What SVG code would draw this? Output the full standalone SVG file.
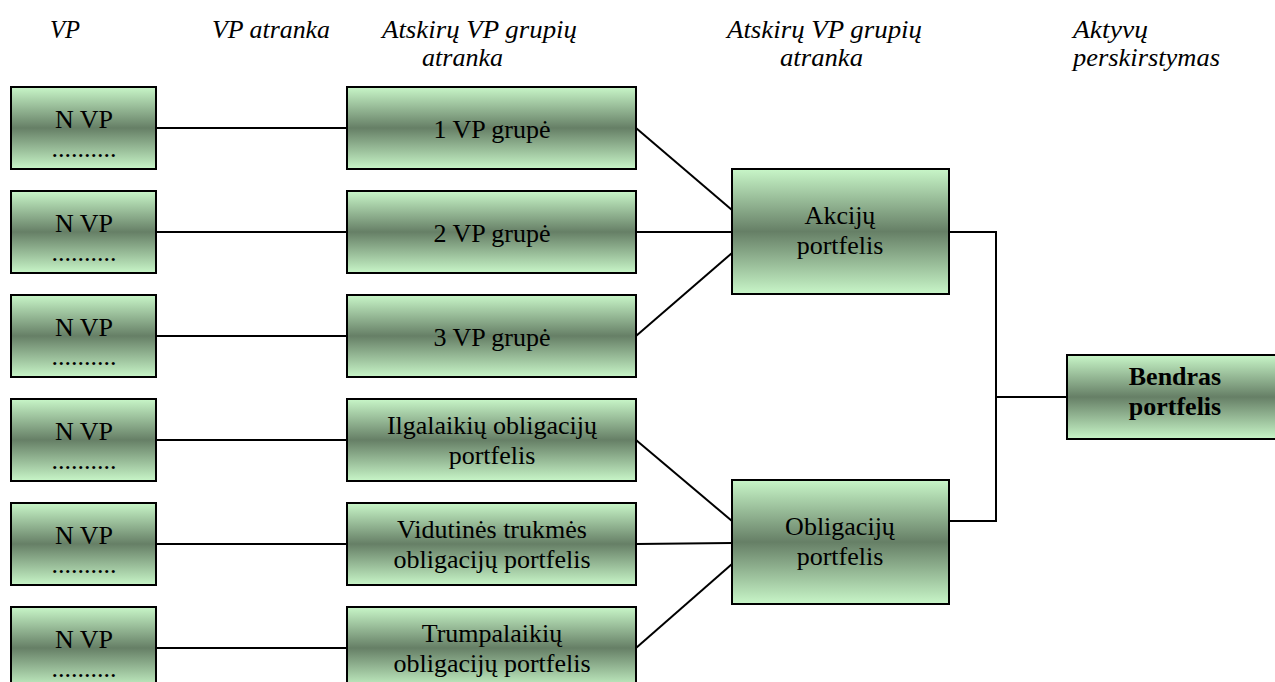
<svg xmlns="http://www.w3.org/2000/svg" width="1275" height="682" viewBox="0 0 1275 682">
<defs>
<linearGradient id="g" x1="0" y1="0" x2="0" y2="1">
<stop offset="0" stop-color="#c8f6c8"/>
<stop offset="0.5" stop-color="#667f66"/>
<stop offset="1" stop-color="#c8f6c8"/>
</linearGradient>
<style>
.b{fill:url(#g);stroke:#000;stroke-width:2}
.t{font-family:"Liberation Serif","Times New Roman",serif;font-size:26px;fill:#000;text-anchor:middle}
.bold{font-weight:bold}
.h{font-family:"Liberation Serif","Times New Roman",serif;font-size:25px;font-style:italic;fill:#000}
.c{fill:none;stroke:#000;stroke-width:2}
</style>
</defs>
<rect width="1275" height="682" fill="#fff"/>
<g id="headers">
<text class="h" x="50" y="38" textLength="30" lengthAdjust="spacingAndGlyphs">VP</text>
<text class="h" x="212" y="38" textLength="118" lengthAdjust="spacingAndGlyphs">VP atranka</text>
<text class="h" x="382" y="38" textLength="195" lengthAdjust="spacingAndGlyphs">Atskirų VP grupių</text>
<text class="h" x="422" y="66" textLength="81" lengthAdjust="spacingAndGlyphs">atranka</text>
<text class="h" x="727" y="38" textLength="195" lengthAdjust="spacingAndGlyphs">Atskirų VP grupių</text>
<text class="h" x="780" y="66" textLength="83" lengthAdjust="spacingAndGlyphs">atranka</text>
<text class="h" x="1073" y="38" textLength="75" lengthAdjust="spacingAndGlyphs">Aktyvų</text>
<text class="h" x="1073" y="66" textLength="147" lengthAdjust="spacingAndGlyphs">perskirstymas</text>
</g>
<g id="connectors">
<line class="c" x1="156" y1="128" x2="347" y2="128"/>
<line class="c" x1="156" y1="232" x2="347" y2="232"/>
<line class="c" x1="156" y1="336" x2="347" y2="336"/>
<line class="c" x1="156" y1="440" x2="347" y2="440"/>
<line class="c" x1="156" y1="544" x2="347" y2="544"/>
<line class="c" x1="156" y1="648" x2="347" y2="648"/>
<line class="c" x1="636" y1="128" x2="732" y2="210"/>
<line class="c" x1="636" y1="232" x2="732" y2="232"/>
<line class="c" x1="636" y1="336" x2="732" y2="253"/>
<line class="c" x1="636" y1="440" x2="732" y2="521"/>
<line class="c" x1="636" y1="544" x2="732" y2="543"/>
<line class="c" x1="636" y1="648" x2="732" y2="564"/>
<polyline class="c" points="949,232 996,232 996,521 949,521"/>
<line class="c" x1="996" y1="397" x2="1067" y2="397"/>
</g>
<g id="vp1"><rect class="b" x="11" y="87" width="145" height="82"/><text class="t" x="84" y="128">N VP</text><text class="t" x="84" y="157">..........</text></g>
<g id="vp2"><rect class="b" x="11" y="191" width="145" height="82"/><text class="t" x="84" y="232">N VP</text><text class="t" x="84" y="261">..........</text></g>
<g id="vp3"><rect class="b" x="11" y="295" width="145" height="82"/><text class="t" x="84" y="336">N VP</text><text class="t" x="84" y="365">..........</text></g>
<g id="vp4"><rect class="b" x="11" y="399" width="145" height="82"/><text class="t" x="84" y="440">N VP</text><text class="t" x="84" y="469">..........</text></g>
<g id="vp5"><rect class="b" x="11" y="503" width="145" height="82"/><text class="t" x="84" y="544">N VP</text><text class="t" x="84" y="573">..........</text></g>
<g id="vp6"><rect class="b" x="11" y="607" width="145" height="82"/><text class="t" x="84" y="648">N VP</text><text class="t" x="84" y="677">..........</text></g>
<g id="grp1"><rect class="b" x="347" y="87" width="289" height="82"/><text class="t" x="492" y="138">1 VP grupė</text></g>
<g id="grp2"><rect class="b" x="347" y="191" width="289" height="82"/><text class="t" x="492" y="242">2 VP grupė</text></g>
<g id="grp3"><rect class="b" x="347" y="295" width="289" height="82"/><text class="t" x="492" y="346">3 VP grupė</text></g>
<g id="ilg"><rect class="b" x="347" y="399" width="289" height="82"/><text class="t" x="492" y="434">Ilgalaikių obligacijų</text><text class="t" x="492" y="464">portfelis</text></g>
<g id="vid"><rect class="b" x="347" y="503" width="289" height="82"/><text class="t" x="492" y="538">Vidutinės trukmės</text><text class="t" x="492" y="568">obligacijų portfelis</text></g>
<g id="trp"><rect class="b" x="347" y="607" width="289" height="82"/><text class="t" x="492" y="642">Trumpalaikių</text><text class="t" x="492" y="672">obligacijų portfelis</text></g>
<g id="akc"><rect class="b" x="732" y="169" width="217" height="125"/><text class="t" x="840" y="224">Akcijų</text><text class="t" x="840" y="254">portfelis</text></g>
<g id="obl"><rect class="b" x="732" y="480" width="217" height="124"/><text class="t" x="840" y="535">Obligacijų</text><text class="t" x="840" y="565">portfelis</text></g>
<g id="bendras"><rect class="b" x="1067" y="355" width="217" height="84"/><text class="t bold" x="1175" y="385">Bendras</text><text class="t bold" x="1175" y="415">portfelis</text></g>
</svg>
